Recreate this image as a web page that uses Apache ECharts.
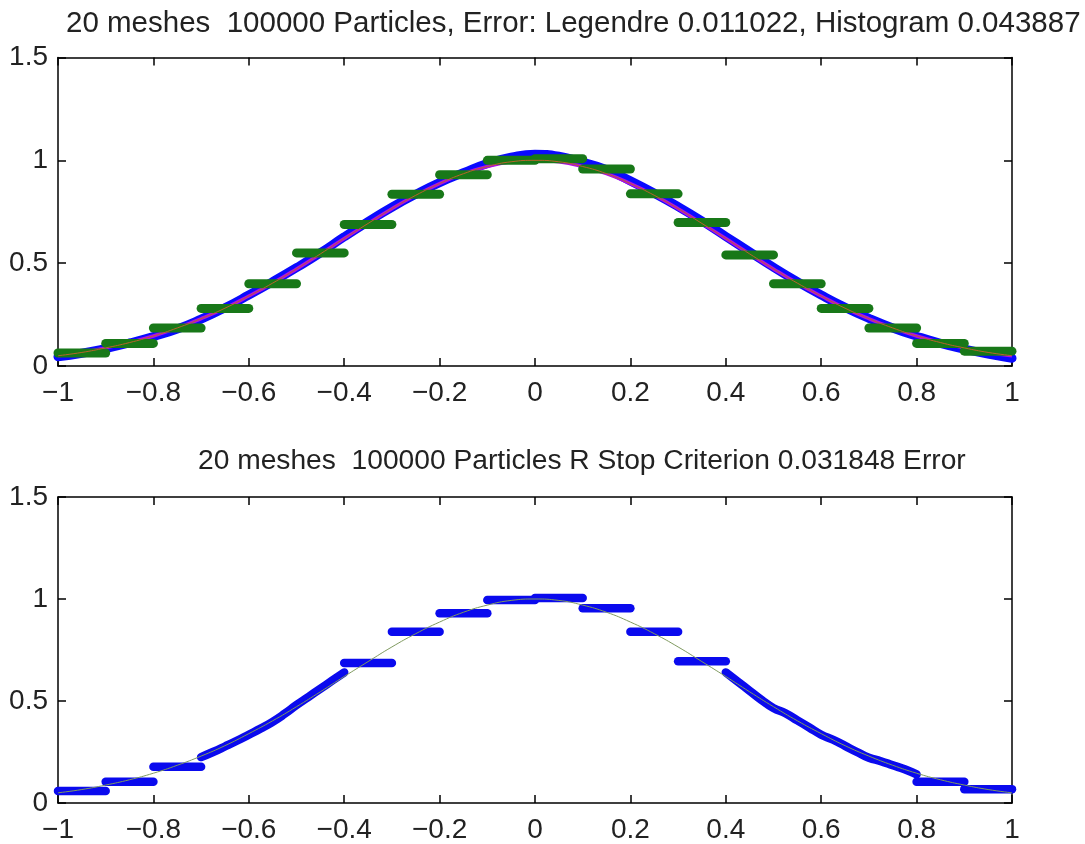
<!DOCTYPE html>
<html><head><meta charset="utf-8">
<script src="https://cdn.jsdelivr.net/npm/echarts@6/dist/echarts.min.js"></script>
<style>html,body{margin:0;padding:0;background:#fff}#c{width:1085px;height:844px}</style>
</head><body><div id="c"></div>
<script>
// ---- data ----
const titleTop = '20 meshes  100000 Particles, Error: Legendre 0.011022, Histogram 0.043887';
const titleBottom = '20 meshes  100000 Particles R Stop Criterion 0.031848 Error';
const xTickLabels = ['-1','-0.8','-0.6','-0.4','-0.2','0','0.2','0.4','0.6','0.8','1'];
const yTickLabels = ['0','0.5','1','1.5'];

const sampleX = [-1,-0.95,-0.9,-0.85,-0.8,-0.75,-0.7,-0.65,-0.6,-0.55,-0.5,-0.45,-0.4,-0.35,-0.3,-0.25,-0.2,-0.15,-0.1,-0.05,0,
  0.05,0.1,0.15,0.2,0.25,0.3,0.35,0.4,0.45,0.5,0.55,0.6,0.65,0.7,0.75,0.8,0.85,0.9,0.95,1];
const exactValues = [0.05,0.066,0.088,0.114,0.146,0.185,0.23,0.281,0.34,0.403,0.472,0.545,0.62,0.693,0.765,0.83,0.887,0.935,0.97,0.993,1.0,
  0.993,0.97,0.935,0.887,0.83,0.765,0.693,0.62,0.545,0.472,0.403,0.34,0.281,0.23,0.185,0.146,0.114,0.088,0.066,0.05];
const legendreValues = [0.045,0.062,0.085,0.112,0.143,0.18,0.228,0.283,0.345,0.41,0.478,0.55,0.628,0.702,0.772,0.835,0.892,0.94,0.985,1.015,1.03,
  1.02,0.99,0.955,0.9,0.84,0.775,0.705,0.63,0.555,0.48,0.41,0.345,0.285,0.232,0.185,0.145,0.11,0.082,0.058,0.038];

const binStarts = [-1,-0.9,-0.8,-0.7,-0.6,-0.5,-0.4,-0.3,-0.2,-0.1,0,0.1,0.2,0.3,0.4,0.5,0.6,0.7,0.8,0.9];
const binEnds   = [-0.9,-0.8,-0.7,-0.6,-0.5,-0.4,-0.3,-0.2,-0.1,0,0.1,0.2,0.3,0.4,0.5,0.6,0.7,0.8,0.9,1];
const histogramValues = [0.063,0.11,0.185,0.28,0.4,0.55,0.688,0.835,0.93,1.0,1.008,0.958,0.837,0.698,0.54,0.4,0.28,0.185,0.11,0.072];

const bottomStepStarts = [-1,-0.9,-0.8,-0.4,-0.3,-0.2,-0.1,0,0.1,0.2,0.3,0.8,0.9];
const bottomStepEnds   = [-0.9,-0.8,-0.7,-0.3,-0.2,-0.1,0,0.1,0.2,0.3,0.4,0.9,1];
const bottomStepValues = [0.059,0.104,0.178,0.686,0.84,0.93,0.995,1.005,0.955,0.84,0.695,0.104,0.068];

const leftCurveX = [-0.7,-0.675,-0.65,-0.625,-0.6,-0.575,-0.55,-0.525,-0.5,-0.475,-0.45,-0.425,-0.4];
const leftCurveY = [0.225,0.25,0.277,0.305,0.335,0.365,0.398,0.437,0.48,0.52,0.56,0.6,0.64];
const rightCurveX = [0.4,0.425,0.45,0.475,0.5,0.525,0.55,0.575,0.6,0.625,0.65,0.675,0.7,0.725,0.75,0.775,0.8];
const rightCurveY = [0.64,0.595,0.55,0.505,0.465,0.44,0.405,0.37,0.335,0.31,0.28,0.25,0.222,0.205,0.185,0.165,0.14];

// ---- chart ----
const FONT = 'Liberation Sans, Arial, sans-serif';
const pair = (xs, ys) => xs.map((x, i) => [x, ys[i]]);
const fmt = v => { const s = Number(v.toFixed(1)).toString(); return s.replace('-', '\u2212'); };

function xAx(grid, pos, labels) {
  return { type: 'value', gridIndex: grid, position: pos, min: -1, max: 1, interval: 0.2,
    axisLine: { show: true, onZero: false, lineStyle: { color: '#000', width: 1.5 } },
    axisTick: { show: true, inside: true, length: 8, lineStyle: { color: '#000', width: 1.5 } },
    axisLabel: { show: labels, margin: 13, fontSize: 28, fontFamily: FONT, color: '#222', formatter: fmt },
    splitLine: { show: false } };
}
function yAx(grid, pos, labels) {
  return { type: 'value', gridIndex: grid, position: pos, min: 0, max: 1.5, interval: 0.5,
    axisLine: { show: true, onZero: false, lineStyle: { color: '#000', width: 1.5 } },
    axisTick: { show: true, inside: true, length: 8, lineStyle: { color: '#000', width: 1.5 } },
    axisLabel: { show: labels, margin: 10, fontSize: 28, fontFamily: FONT, color: '#222', formatter: fmt },
    splitLine: { show: false } };
}
function seg(xi, yi, x0, x1, v, color, width, z) {
  return { type: 'line', xAxisIndex: xi, yAxisIndex: yi, data: [[x0, v], [x1, v]], symbol: 'none', silent: true, z: z,
    lineStyle: { color: color, width: width, cap: 'round' } };
}

const series = [];
// top
series.push({ type: 'line', xAxisIndex: 0, yAxisIndex: 0, data: pair(sampleX, legendreValues), smooth: true, symbol: 'none', z: 2,
  lineStyle: { color: '#0a0aff', width: 9, cap: 'round' } });
series.push({ type: 'line', xAxisIndex: 0, yAxisIndex: 0, data: pair(sampleX, exactValues), smooth: true, symbol: 'none', z: 3,
  lineStyle: { color: '#b010e0', width: 3.5 } });
binStarts.forEach((b, i) => series.push(seg(0, 0, b, binEnds[i], histogramValues[i], '#187818', 9, 4)));
series.push({ type: 'line', xAxisIndex: 0, yAxisIndex: 0, data: pair(sampleX, exactValues), smooth: true, symbol: 'none', z: 5,
  lineStyle: { color: '#b8642a', width: 1 } });
// bottom
series.push({ type: 'line', xAxisIndex: 2, yAxisIndex: 2, data: pair(leftCurveX, leftCurveY), smooth: true, symbol: 'none', z: 2,
  lineStyle: { color: '#0a0aee', width: 8.5, cap: 'round' } });
series.push({ type: 'line', xAxisIndex: 2, yAxisIndex: 2, data: pair(rightCurveX, rightCurveY), smooth: true, symbol: 'none', z: 2,
  lineStyle: { color: '#0a0aee', width: 8.5, cap: 'round' } });
bottomStepStarts.forEach((b, i) => series.push(seg(2, 2, b, bottomStepEnds[i], bottomStepValues[i], '#0a0aee', 8.5, 2)));
series.push({ type: 'line', xAxisIndex: 2, yAxisIndex: 2, data: pair(sampleX, exactValues), smooth: true, symbol: 'none', z: 5,
  lineStyle: { color: '#7f9a60', width: 1 } });

const chart = echarts.init(document.getElementById('c'), null, { renderer: 'canvas' });
chart.setOption({
  animation: false,
  backgroundColor: '#fff',
  title: [
    { text: titleTop, left: 66, top: 9, padding: 0, textStyle: { fontSize: 29.5, fontWeight: 'normal', fontFamily: FONT, color: '#222' } },
    { text: titleBottom, left: 198, top: 447, padding: 0, textStyle: { fontSize: 28.2, fontWeight: 'normal', fontFamily: FONT, color: '#222' } }
  ],
  grid: [
    { left: 58, top: 57.5, right: 73, height: 308.5 },
    { left: 58, top: 497, right: 73, height: 306 }
  ],
  xAxis: [xAx(0, 'bottom', true), xAx(0, 'top', false), xAx(1, 'bottom', true), xAx(1, 'top', false)],
  yAxis: [yAx(0, 'left', true), yAx(0, 'right', false), yAx(1, 'left', true), yAx(1, 'right', false)],
  series: series
});
</script>
</body></html>
